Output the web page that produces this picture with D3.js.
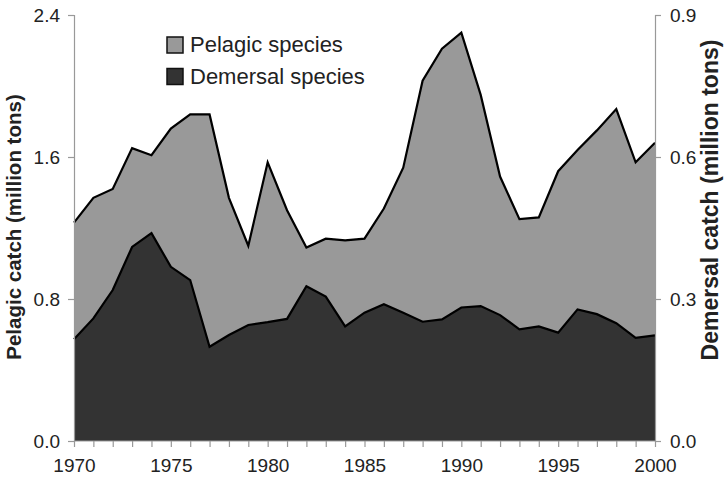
<!DOCTYPE html>
<html lang="en">
<head>
<meta charset="UTF-8">
<title>Pelagic and demersal catch</title>
<script src="https://d3js.org/d3.v7.min.js"></script>
<style>
  body { margin: 0; background: #fff; }
  svg text { font-family: "Liberation Sans", Arial, sans-serif; fill: #222; }
</style>
</head>
<body>
<script>
// data
var years = d3.range(1970, 2001);
var pelagic = [1.23, 1.37, 1.42, 1.65, 1.61, 1.76, 1.84, 1.84, 1.37, 1.10,
               1.57, 1.30, 1.09, 1.14, 1.13, 1.14, 1.31, 1.54, 2.03, 2.21,
               2.30, 1.95, 1.49, 1.25, 1.26, 1.52, 1.64, 1.75, 1.87, 1.57, 1.68];
var demersal = [0.215, 0.259, 0.319, 0.410, 0.439, 0.368, 0.340, 0.199, 0.224, 0.245,
                0.251, 0.258, 0.327, 0.305, 0.242, 0.271, 0.289, 0.271, 0.252, 0.257,
                0.282, 0.285, 0.266, 0.236, 0.242, 0.229, 0.278, 0.268, 0.249, 0.218, 0.223];
var leftTicks = [0, 0.8, 1.6, 2.4];
var rightTicks = [0, 0.3, 0.6, 0.9];
var legendLabels = ['Pelagic species', 'Demersal species'];
var colors = ['#999999', '#333333'];

var svg = d3.select('body').append('svg')
    .attr('width', 724)
    .attr('height', 479);

var x = d3.scaleLinear().domain([1970, 2000]).range([74, 655]);
var yL = d3.scaleLinear().domain([0, 2.4]).range([441, 15]);
var yR = d3.scaleLinear().domain([0, 0.9]).range([441, 15]);

// areas
var areaP = d3.area()
    .x(function(d, i) { return x(years[i]); })
    .y0(yL(0))
    .y1(function(d) { return yL(d); });
var areaD = d3.area()
    .x(function(d, i) { return x(years[i]); })
    .y0(yR(0))
    .y1(function(d) { return yR(d); });
var lineP = d3.line().x(function(d, i) { return x(years[i]); }).y(function(d) { return yL(d); });
var lineD = d3.line().x(function(d, i) { return x(years[i]); }).y(function(d) { return yR(d); });

svg.append('path').attr('d', areaP(pelagic)).attr('fill', colors[0]);
svg.append('path').attr('d', lineP(pelagic)).attr('fill', 'none')
    .attr('stroke', '#000').attr('stroke-width', 2.2).attr('stroke-linejoin', 'miter');
svg.append('path').attr('d', areaD(demersal)).attr('fill', colors[1]);
svg.append('path').attr('d', lineD(demersal)).attr('fill', 'none')
    .attr('stroke', '#000').attr('stroke-width', 2.2).attr('stroke-linejoin', 'miter');

// axes
var fmt = d3.format('.1f');
var gL = svg.append('g').attr('transform', 'translate(74,0)')
    .call(d3.axisLeft(yL).tickValues(leftTicks).tickFormat(fmt).tickSize(6).tickPadding(8));
var gR = svg.append('g').attr('transform', 'translate(655,0)')
    .call(d3.axisRight(yR).tickValues(rightTicks).tickFormat(fmt).tickSize(6).tickPadding(9));
var gX = svg.append('g').attr('transform', 'translate(0,441)')
    .call(d3.axisBottom(x).tickValues(years)
        .tickFormat(function(d) { return d % 5 === 0 ? d : ''; })
        .tickSize(6).tickPadding(12));

[gL, gR, gX].forEach(function(g) {
    g.select('.domain').attr('stroke', '#999').attr('stroke-width', 1.2);
    g.selectAll('.tick line').attr('stroke', '#999').attr('stroke-width', 1.2);
    g.selectAll('.tick text').attr('font-size', 19).attr('fill', '#222')
        .style('font-family', '"Liberation Sans", Arial, sans-serif');
});
gX.select('.domain').attr('d', 'M74,0H655');

// axis titles
svg.append('text')
    .attr('transform', 'translate(21,227) rotate(-90)')
    .attr('text-anchor', 'middle')
    .attr('font-size', 20.5)
    .attr('font-weight', 'bold')
    .text('Pelagic catch (million tons)');
svg.append('text')
    .attr('transform', 'translate(718,200) rotate(-90)')
    .attr('text-anchor', 'middle')
    .attr('font-size', 23)
    .attr('font-weight', 'bold')
    .text('Demersal catch (million tons)');

// legend
var legend = svg.append('g').attr('transform', 'translate(167,37)');
legendLabels.forEach(function(lab, i) {
    legend.append('rect')
        .attr('x', 0).attr('y', i * 31.5)
        .attr('width', 16).attr('height', 16)
        .attr('fill', colors[i])
        .attr('stroke', '#111').attr('stroke-width', 1.5);
    legend.append('text')
        .attr('x', 23).attr('y', i * 31.5 + 15)
        .attr('font-size', 22)
        .text(lab);
});
</script>
</body>
</html>
